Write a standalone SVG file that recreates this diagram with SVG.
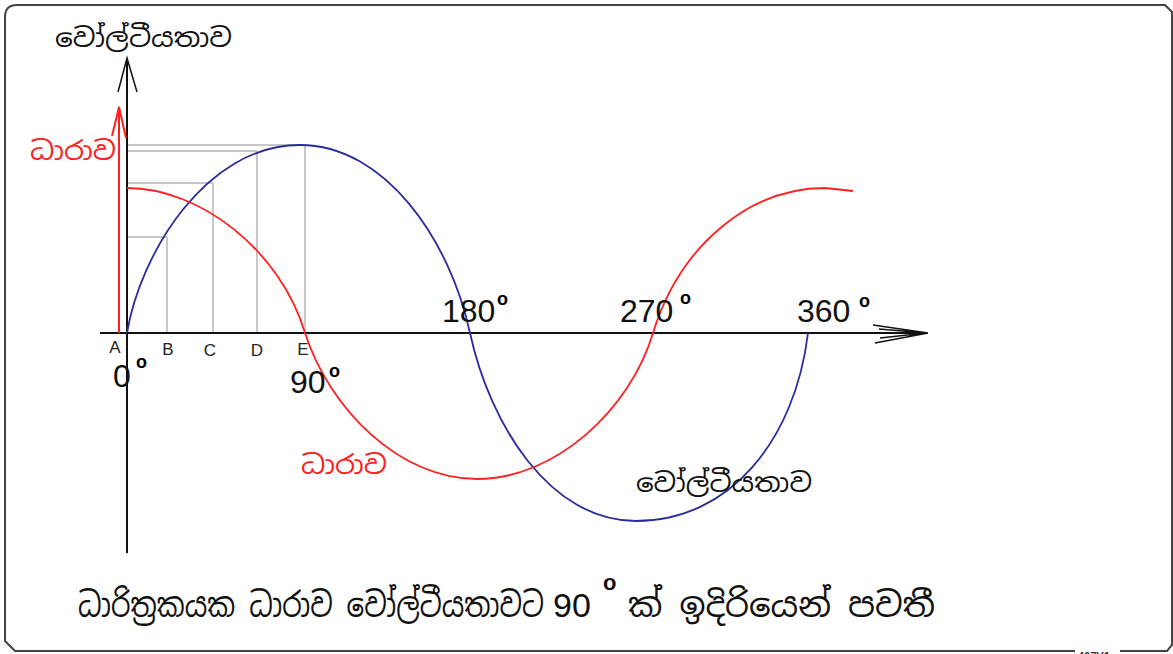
<svg xmlns="http://www.w3.org/2000/svg" width="1173" height="654" viewBox="0 0 1173 654">
<style>
.si{font-family:"Noto Sans Sinhala","Iskoola Pota","Noto Sans","DejaVu Sans",sans-serif;}
.num{font-family:"Liberation Sans",Arial,sans-serif;font-size:32px;fill:#111;}
.deg{font-family:"Liberation Sans",Arial,sans-serif;font-size:18px;font-weight:bold;fill:#000;}
.lab{font-family:"Liberation Sans",Arial,sans-serif;font-size:17px;fill:#222;text-anchor:middle;}
.grid{stroke:#c8c8c8;stroke-width:2;fill:none;}
.axis{stroke:#111;stroke-width:2;fill:none;}
.blue{stroke:#2b2b9c;stroke-width:1.8;fill:none;stroke-linejoin:round;}
.red{stroke:#ff2020;stroke-width:1.8;fill:none;stroke-linejoin:round;}
</style>
<rect x="0" y="0" width="1173" height="654" fill="#fff"/>
<g id="frame">
<path d="M1120,651 H1167 L1172,645 V12 L1165,5 H17 Q5,5 5,17 V641 L15,651 H1075" fill="none" stroke="#444" stroke-width="2"/>
<text x="1078" y="660" font-family="Liberation Sans,Arial,sans-serif" font-size="11" font-weight="bold" fill="#333">407V1</text>
</g>
<g id="grid">
<path class="grid" d="M127,145 H305 M127,151 H257 M127,183 H213 M127,237 H167 M167,237 V333 M213,183 V333 M257,151 V333 M305,145 V333"/>
</g>
<g id="connectors">
<path class="axis" d="M127,60 V553"/>
<path d="M118,92 L127,58 L137,92" fill="none" stroke="#111" stroke-width="1.5"/>
<path class="axis" d="M100,333 H927"/>
<path d="M873,325 L928,333 M879,329 L926,333 M875,343 L928,333 M880,338 L926,333" fill="none" stroke="#111" stroke-width="1.3"/>
<path d="M119,333 V108 M112,136 L119,107 L126,138" fill="none" stroke="#ff2020" stroke-width="2"/>
</g>
<g id="voltage-curve">
<path class="blue" d="M127,333 C140,255 205,145 300,145 C385,145 450,240 470,333 C490,425 550,521 636,521 C730,521 795,440 808,333"/>
</g>
<g id="current-curve">
<path class="red" d="M127,188 C200,188 280,250 305,333 C330,410 400,479 477,479 C555,479 630,410 653,333 C680,245 750,188 825,188 L853,191"/>
</g>
<g id="labels">
<text class="si" x="55" y="47" font-size="26" fill="#111" textLength="177" lengthAdjust="spacingAndGlyphs">වෝල්ටීයතාව</text>
<text class="si" x="30" y="160" font-size="26" fill="#ff2020" textLength="86" lengthAdjust="spacingAndGlyphs">ධාරාව</text>
<text class="si" x="301" y="474" font-size="26" fill="#ff2020" textLength="86" lengthAdjust="spacingAndGlyphs">ධාරාව</text>
<text class="si" x="636" y="492" font-size="26" fill="#111" textLength="176" lengthAdjust="spacingAndGlyphs">වෝල්ටීයතාව</text>
<text class="lab" x="115" y="353">A</text>
<text class="lab" x="168" y="355">B</text>
<text class="lab" x="210" y="356">C</text>
<text class="lab" x="257" y="356">D</text>
<text class="lab" x="303" y="355">E</text>
<text class="num" x="113" y="387">0</text><text class="deg" x="136" y="368">o</text>
<text class="num" x="290" y="393">90</text><text class="deg" x="329" y="377">o</text>
<text class="num" x="442" y="322">180</text><text class="deg" x="497" y="305">o</text>
<text class="num" x="620" y="322">270</text><text class="deg" x="680" y="304">o</text>
<text class="num" x="797" y="322">360</text><text class="deg" x="859" y="307">o</text>
</g>
<g id="caption">
<text class="si" x="78" y="617" font-size="34" fill="#111" textLength="466" lengthAdjust="spacingAndGlyphs">ධාරිත්‍රකයක ධාරාව වෝල්ටීයතාවට</text>
<text x="553" y="617" font-family="Liberation Sans,Arial,sans-serif" font-size="34" fill="#111">90</text>
<text x="603" y="590" font-family="Liberation Sans,Arial,sans-serif" font-size="22" font-weight="bold" fill="#111">o</text>
<text class="si" x="628" y="617" font-size="34" fill="#111" textLength="307" lengthAdjust="spacingAndGlyphs">ක් ඉදිරියෙන් පවතී</text>
</g>
</svg>
